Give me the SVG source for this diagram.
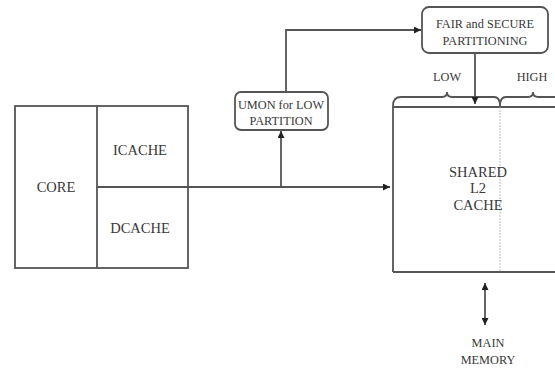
<svg xmlns="http://www.w3.org/2000/svg" width="555" height="371" viewBox="0 0 555 371">
<style>
.ln{fill:none;stroke:#555;stroke-width:1.8}
.bx{fill:#fff;stroke:#555;stroke-width:1.8}
.t{font-family:"Liberation Serif","Times New Roman",serif;font-size:14.5px;fill:#383838;text-anchor:middle}
.s{font-size:12.3px}
</style>
<defs>
<marker id="ah" viewBox="0 0 10 10" refX="10" refY="5" markerWidth="7" markerHeight="7" orient="auto-start-reverse" markerUnits="userSpaceOnUse">
<path d="M0,0 L10,5 L0,10 z" fill="#222"/>
</marker>
</defs>
<rect width="555" height="371" fill="#fff"/>
<g id="core">
<rect class="bx" x="15" y="106" width="173" height="162"/>
<line class="ln" x1="97" y1="106" x2="97" y2="268"/>
<text class="t" x="56" y="192">CORE</text>
</g>
<g id="icache">
<text class="t" x="140" y="155">ICACHE</text>
</g>
<g id="dcache">
<text class="t" x="140" y="233">DCACHE</text>
</g>
<g id="umon">
<rect class="bx" x="235" y="92" width="93" height="38" rx="6"/>
<text class="t s" x="281" y="109">UMON for LOW</text>
<text class="t s" x="281" y="125">PARTITION</text>
</g>
<g id="fair">
<rect class="bx" x="422" y="7" width="126" height="46" rx="7"/>
<text class="t s" x="485" y="28">FAIR and SECURE</text>
<text class="t s" x="485" y="45">PARTITIONING</text>
</g>
<g id="shared">
<path class="ln" d="M393,272 L393,107 L555,107"/>
<line x1="393" y1="272" x2="555" y2="272" stroke="#555" stroke-width="1.8"/>
<line x1="500" y1="107" x2="500" y2="272" stroke="#bbb" stroke-width="1" stroke-dasharray="2,1"/>
<path class="ln" d="M393,106 Q393,97 401,97 L442,97 Q447,97 447,92 Q447,97 452,97 L494,97 Q500,97 500,106 Q500,97 506,97 L528,97 Q533,97 533,92 Q533,97 538,97 L555,97"/>
<text class="t s" x="447" y="81">LOW</text>
<text class="t s" x="532" y="81">HIGH</text>
<text class="t" x="478" y="177">SHARED</text>
<text class="t" x="478" y="193">L2</text>
<text class="t" x="478" y="210">CACHE</text>
</g>
<g id="memory">
<text class="t s" x="488" y="347">MAIN</text>
<text class="t s" x="488" y="364">MEMORY</text>
</g>
<g id="connectors">
<line class="ln" x1="97" y1="187" x2="390" y2="187" marker-end="url(#ah)"/>
<line class="ln" x1="281" y1="187" x2="281" y2="131" marker-end="url(#ah)"/>
<path class="ln" d="M286,92 L286,30 L421,30" marker-end="url(#ah)"/>
<line class="ln" x1="475" y1="53" x2="475" y2="104" marker-end="url(#ah)"/>
<line class="ln" x1="485" y1="283" x2="485" y2="325" marker-start="url(#ah)" marker-end="url(#ah)"/>
</g>
</svg>
